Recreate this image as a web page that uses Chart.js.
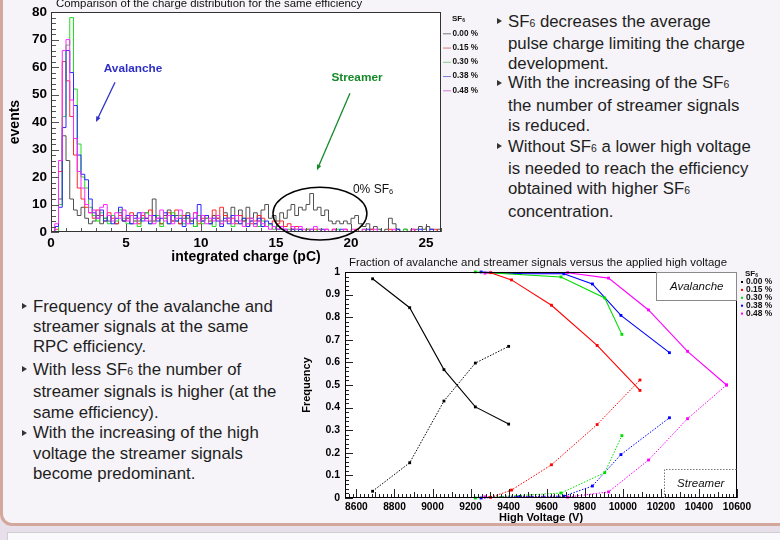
<!DOCTYPE html>
<html>
<head>
<meta charset="utf-8">
<script src="https://cdn.jsdelivr.net/npm/chart.js@4.4.0/dist/chart.umd.min.js"></script>
<style>
html, body { margin: 0; padding: 0; }
body { width: 780px; height: 540px; position: relative; overflow: hidden; background: #e7e0ea;
       font-family: "Liberation Sans", Arial, Helvetica, sans-serif; }
#slide { position: absolute; left: 0; top: -20px; width: 820px; height: 546px; box-sizing: border-box;
         border: 3px solid #d4a79c; border-radius: 12px; background: #f6f4f8; }
#next { position: absolute; left: 7px; top: 532px; width: 800px; height: 30px; box-sizing: border-box;
        border: 1px solid #cfcdd4; background: #fafafc; }
.txt { position: absolute; font-size: 16.8px; line-height: 20.4px; color: #1e1e1e; white-space: nowrap; }
.b { position: absolute; }
.b::before { content: ''; position: absolute; left: -11px; top: 6.7px; border-left: 5px solid #333;
             border-top: 3.5px solid transparent; border-bottom: 3.5px solid transparent; }
.s { font-size: 62%; }
#topBox { position: absolute; left: 0; top: 0; width: 490px; height: 270px; }
#botBox { position: absolute; left: 295px; top: 255px; width: 485px; height: 275px; }
</style>
</head>
<body>
<div id="slide"></div>
<div id="next"></div>

<div class="txt" style="left:508px;top:0;">
  <div class="b" style="top:11.5px;">SF<span class="s">6</span> decreases the average<br>pulse charge limiting the charge<br>development.</div>
  <div class="b" style="top:73.1px;">With the increasing of the SF<span class="s">6</span><br>the number of streamer signals<br>is reduced.</div>
  <div class="b" style="top:136.5px;">Without SF<span class="s">6</span> a lower high voltage<br>is needed to reach the efficiency<br>obtained with higher SF<span class="s">6</span><br>concentration.</div>
</div>

<div class="txt" style="left:33px;top:0;">
  <div class="b" style="top:296.5px;">Frequency of the avalanche and<br>streamer signals at the same<br>RPC efficiency.</div>
  <div class="b" style="top:359.8px;">With less SF<span class="s">6</span> the number of<br>streamer signals is higher (at the<br>same efficiency).</div>
  <div class="b" style="top:423.1px;">With the increasing of the high<br>voltage the streamer signals<br>become predominant.</div>
</div>

<div id="topBox"><canvas id="chargeChart" width="490" height="270"></canvas></div>
<div id="botBox"><canvas id="freqChart" width="485" height="275"></canvas></div>

<script>
Chart.defaults.font.family = '"Liberation Sans", Arial, Helvetica, sans-serif';

// ---- charge distribution (0.25 pC bins from 0 to 26 pC)
const binWidth = 0.25;
const chargeTicks = [0, 5, 10, 15, 20, 25];
const eventTicks = [0, 10, 20, 30, 40, 50, 60, 70, 80];
const sfLabels = ['0.00 %', '0.15 %', '0.30 %', '0.38 %', '0.48 %'];

const counts000 = [
  0, 0, 12, 35, 26, 12, 8, 6, 9, 5,
  3, 4, 6, 3, 5, 4, 6, 3, 7, 4,
  5, 3, 6, 4, 5, 7, 4, 12, 5, 3,
  6, 8, 4, 6, 3, 5, 7, 4, 2, 6,
  4, 5, 3, 6, 5, 4, 7, 5, 9, 6,
  8, 4, 9, 5, 7, 4, 8, 10, 5, 6,
  4, 7, 5, 8, 10, 6, 9, 8, 10, 14,
  8, 9, 6, 8, 4, 3, 4, 3, 4, 3,
  5, 6, 3, 2, 3, 1, 2, 1, 0, 1,
  5, 3, 1, 0, 1, 0, 0, 1, 2, 1,
  2, 1, 0, 1];
const counts015 = [
  0, 1, 22, 62, 55, 42, 28, 16, 12, 9,
  7, 5, 8, 6, 4, 7, 5, 3, 6, 4,
  5, 7, 4, 3, 6, 5, 8, 4, 6, 3,
  5, 7, 4, 8, 3, 6, 5, 4, 7, 3,
  5, 6, 4, 8, 5, 9, 6, 4, 5, 3,
  6, 4, 5, 3, 4, 6, 5, 2, 3, 4,
  3, 4, 2, 3, 1, 2, 1, 0, 1, 0,
  1, 0, 0, 1, 0, 1, 0, 0, 1, 0,
  0, 1, 0, 0, 0, 1, 0, 0, 0, 0,
  1, 0, 0, 0, 0, 0, 1, 0, 0, 0,
  0, 0, 1, 0];
const counts030 = [
  0, 0, 10, 42, 68, 78, 52, 32, 20, 16,
  9, 6, 4, 7, 5, 3, 6, 4, 8, 5,
  3, 6, 4, 2, 5, 7, 3, 4, 6, 2,
  5, 3, 7, 4, 6, 3, 5, 4, 2, 6,
  3, 5, 4, 2, 6, 3, 4, 5, 2, 4,
  3, 5, 2, 4, 3, 2, 4, 2, 3, 1,
  2, 1, 0, 1, 0, 1, 0, 0, 1, 0,
  0, 1, 0, 0, 0, 0, 1, 0, 0, 0,
  0, 0, 0, 1, 0, 0, 0, 0, 0, 0,
  0, 0, 0, 0, 1, 0, 0, 0, 0, 0,
  0, 0, 0, 0];
const counts038 = [
  0, 2, 9, 38, 66, 58, 46, 28, 21, 19,
  12, 7, 5, 8, 4, 6, 3, 5, 9, 4,
  6, 3, 5, 7, 4, 5, 3, 6, 4, 5,
  7, 3, 6, 4, 5, 2, 6, 3, 5, 10,
  4, 6, 3, 5, 4, 2, 5, 3, 6, 4,
  3, 5, 2, 4, 3, 5, 2, 4, 3, 2,
  1, 2, 1, 0, 1, 0, 1, 0, 0, 1,
  0, 0, 1, 0, 0, 0, 0, 1, 0, 0,
  0, 0, 0, 0, 1, 0, 0, 0, 0, 0,
  0, 0, 1, 0, 0, 0, 0, 0, 1, 0,
  0, 1, 0, 0];
const counts048 = [
  0, 3, 26, 66, 70, 48, 34, 22, 16, 10,
  7, 8, 5, 9, 10, 6, 4, 7, 5, 8,
  4, 6, 3, 5, 7, 4, 6, 3, 5, 8,
  4, 6, 3, 5, 8, 4, 3, 5, 7, 4,
  6, 3, 5, 4, 6, 3, 4, 5, 3, 6,
  4, 2, 3, 5, 2, 4, 3, 2, 1, 2,
  1, 2, 1, 0, 2, 1, 2, 1, 0, 1,
  2, 1, 0, 1, 0, 1, 0, 0, 1, 0,
  1, 0, 0, 1, 0, 0, 1, 0, 0, 0,
  0, 1, 0, 0, 0, 0, 1, 0, 0, 0,
  0, 0, 0, 0];

// ---- avalanche / streamer fraction vs HV
const hvTicks = [8600, 8800, 9000, 9200, 9400, 9600, 9800, 10000, 10200, 10400, 10600];
const freqTicks = [0, 0.1, 0.2, 0.3, 0.4, 0.5, 0.6, 0.7, 0.8, 0.9, 1];

const hv000 = [8685, 8880, 9060, 9225, 9400];
const aval000 = [0.97, 0.842, 0.568, 0.403, 0.327];
const strm000 = [0.03, 0.156, 0.429, 0.597, 0.671];

const hv015 = [9305, 9415, 9625, 9865, 10090];
const aval015 = [0.997, 0.965, 0.853, 0.675, 0.476];
const strm015 = [0.003, 0.035, 0.147, 0.325, 0.522];

const hv030 = [9225, 9675, 9905, 9995];
const aval030 = [1.0, 0.978, 0.885, 0.724];
const strm030 = [0.0, 0.022, 0.112, 0.276];

const hv038 = [9255, 9460, 9690, 9840, 9990, 10245];
const aval038 = [1.0, 0.993, 0.992, 0.947, 0.808, 0.643];
const strm038 = [0.0, 0.007, 0.008, 0.053, 0.192, 0.355];

const hv048 = [9275, 9710, 9925, 10135, 10340, 10545];
const aval048 = [0.995, 0.997, 0.973, 0.832, 0.649, 0.5];
const strm048 = [0.005, 0.004, 0.027, 0.168, 0.351, 0.5];

const histColors = ['#505050', '#ff2a2a', '#22dd22', '#2a2aff', '#ff2aff'];
const legendLineColors = ['#777777', '#d87a7a', '#86cc86', '#7a7ad8', '#d87ad8'];
const graphColors = ['#000000', '#ff0000', '#00dd00', '#0000ff', '#ff00ff'];

function histPoints(counts) {
    let pts = counts.map((c, i) => ({x: i * binWidth, y: c}));
    pts.push({x: counts.length * binWidth, y: 0});
    return pts;
}
function graphPoints(xs, ys) {
    return xs.map((v, i) => ({x: v, y: ys[i]}));
}

// white pad + ROOT style frame with inward ticks
const rootFrame = {
    id: 'rootFrame',
    beforeDraw: function(chart) {
        const a = chart.chartArea;
        chart.ctx.save();
        chart.ctx.fillStyle = '#ffffff';
        chart.ctx.fillRect(a.left, a.top, a.width, a.height);
        chart.ctx.restore();
    },
    afterDatasetsDraw: function(chart, args, o) {
        const ctx = chart.ctx, a = chart.chartArea, x = chart.scales.x, y = chart.scales.y;
        ctx.save();
        ctx.strokeStyle = o.color;
        ctx.lineWidth = 1;
        ctx.beginPath();
        o.xTicks.forEach(function(t) {
            for (let k = Math.ceil(x.min / t[0] - 1e-9); k * t[0] <= x.max + 1e-9; k++) {
                const px = Math.round(x.getPixelForValue(k * t[0])) + 0.5;
                ctx.moveTo(px, a.bottom);
                ctx.lineTo(px, a.bottom - t[1]);
            }
        });
        o.yTicks.forEach(function(t) {
            for (let k = Math.ceil(y.min / t[0] - 1e-9); k * t[0] <= y.max + 1e-9; k++) {
                const py = Math.round(y.getPixelForValue(k * t[0])) + 0.5;
                ctx.moveTo(a.left, py);
                ctx.lineTo(a.left + t[1], py);
            }
        });
        ctx.stroke();
        ctx.strokeStyle = o.frame;
        ctx.strokeRect(Math.round(a.left) + 0.5, Math.round(a.top) + 0.5, Math.round(a.width) - 1, Math.round(a.height) - 1);
        ctx.restore();
    }
};

function drawSF(ctx, x, y, size, weight) {
    ctx.font = weight + ' ' + size + 'px "Liberation Sans", Arial';
    ctx.fillText('SF', x, y);
    const w = ctx.measureText('SF').width;
    ctx.font = weight + ' ' + (size * 0.62) + 'px "Liberation Sans", Arial';
    ctx.fillText('6', x + w, y + size * 0.18);
}

function arrow(ctx, x1, y1, x2, y2, color) {
    const ang = Math.atan2(y2 - y1, x2 - x1), h = 6;
    ctx.strokeStyle = color;
    ctx.fillStyle = color;
    ctx.lineWidth = 1.3;
    ctx.beginPath();
    ctx.moveTo(x1, y1);
    ctx.lineTo(x2 - Math.cos(ang) * h * 0.8, y2 - Math.sin(ang) * h * 0.8);
    ctx.stroke();
    ctx.beginPath();
    ctx.moveTo(x2, y2);
    ctx.lineTo(x2 - h * Math.cos(ang - 0.4), y2 - h * Math.sin(ang - 0.4));
    ctx.lineTo(x2 - h * Math.cos(ang + 0.4), y2 - h * Math.sin(ang + 0.4));
    ctx.closePath();
    ctx.fill();
}

// title, legend and annotations of the charge plot
const chargeNotes = {
    id: 'chargeNotes',
    afterDraw: function(chart) {
        const ctx = chart.ctx, x = chart.scales.x, y = chart.scales.y;
        ctx.save();
        ctx.textBaseline = 'middle';
        ctx.textAlign = 'left';
        ctx.fillStyle = '#111';
        ctx.font = '11.4px "Liberation Sans", Arial';
        ctx.fillText('Comparison of the charge distribution for the same efficiency', 56, 4);

        // legend
        drawSF(ctx, 452, 19, 8, 'bold');
        sfLabels.forEach(function(lab, i) {
            const ly = 33.3 + i * 14.25;
            ctx.strokeStyle = legendLineColors[i];
            ctx.lineWidth = 1;
            ctx.beginPath();
            ctx.moveTo(443, ly + 0.5);
            ctx.lineTo(451, ly + 0.5);
            ctx.stroke();
            ctx.fillStyle = '#111';
            ctx.font = 'bold 8.2px "Liberation Sans", Arial';
            ctx.fillText(lab, 452.5, ly);
        });

        // annotations
        ctx.textAlign = 'center';
        ctx.font = 'bold 11.8px "Liberation Sans", Arial';
        ctx.fillStyle = '#3030c8';
        ctx.fillText('Avalanche', x.getPixelForValue(5.47), y.getPixelForValue(59.3));
        arrow(ctx, x.getPixelForValue(4.27), y.getPixelForValue(54.5), x.getPixelForValue(3.0), y.getPixelForValue(40), '#3030c8');
        ctx.fillStyle = '#168a28';
        ctx.fillText('Streamer', x.getPixelForValue(20.4), y.getPixelForValue(56));
        arrow(ctx, x.getPixelForValue(19.93), y.getPixelForValue(50.5), x.getPixelForValue(17.73), y.getPixelForValue(22.5), '#168a28');

        const cx = x.getPixelForValue(17.93), cy = y.getPixelForValue(6.7);
        ctx.strokeStyle = '#000';
        ctx.lineWidth = 1.5;
        ctx.beginPath();
        ctx.ellipse(cx, cy, x.getPixelForValue(3.13) - x.getPixelForValue(0), y.getPixelForValue(0) - y.getPixelForValue(9.6), 0, 0, Math.PI * 2);
        ctx.stroke();
        ctx.textAlign = 'left';
        ctx.fillStyle = '#111';
        ctx.font = '12px "Liberation Sans", Arial';
        const tx = x.getPixelForValue(20.13), ty = y.getPixelForValue(15.3);
        ctx.fillText('0% ', tx, ty);
        drawSF(ctx, tx + ctx.measureText('0% ').width, ty, 12, 'normal');
        ctx.restore();
    }
};

// title, legend and boxes of the frequency plot
const freqNotes = {
    id: 'freqNotes',
    afterDraw: function(chart) {
        const ctx = chart.ctx, a = chart.chartArea, x = chart.scales.x, y = chart.scales.y;
        ctx.save();
        ctx.textBaseline = 'middle';
        ctx.textAlign = 'center';
        ctx.fillStyle = '#111';
        ctx.font = '11.4px "Liberation Sans", Arial';
        ctx.fillText('Fraction of avalanche and streamer signals versus the applied high voltage', 243, 8);

        // Avalanche box
        const ax = Math.round(x.getPixelForValue(10175)) + 0.5, ay = Math.round(y.getPixelForValue(0.876)) + 0.5;
        ctx.fillStyle = '#ffffff';
        ctx.fillRect(ax, a.top + 1, a.right - 1 - ax, ay - a.top - 1);
        ctx.strokeStyle = '#8a8a8a';
        ctx.lineWidth = 1;
        ctx.strokeRect(ax, a.top + 0.5, a.right - 0.5 - ax, ay - a.top - 0.5);
        ctx.fillStyle = '#111';
        ctx.font = 'italic 11.5px "Liberation Sans", Arial';
        ctx.fillText('Avalanche', (ax + a.right) / 2, (a.top + ay) / 2 + 0.5);

        // Streamer box
        const sx = Math.round(x.getPixelForValue(10215)) + 0.5, sy = Math.round(y.getPixelForValue(0.128)) + 0.5;
        ctx.setLineDash([1.5, 1.5]);
        ctx.strokeStyle = '#777';
        ctx.beginPath();
        ctx.moveTo(sx, a.bottom);
        ctx.lineTo(sx, sy);
        ctx.lineTo(a.right, sy);
        ctx.stroke();
        ctx.setLineDash([]);
        ctx.fillText('Streamer', (sx + a.right) / 2, (sy + a.bottom) / 2);

        // legend
        ctx.textAlign = 'left';
        drawSF(ctx, 450, 19, 8, 'bold');
        sfLabels.forEach(function(lab, i) {
            const ly = 27 + i * 7.9;
            ctx.fillStyle = graphColors[i];
            ctx.fillRect(446, ly - 1, 2, 2);
            ctx.fillStyle = '#111';
            ctx.font = 'bold 8.4px "Liberation Sans", Arial';
            ctx.fillText(lab, 451, ly);
        });
        ctx.restore();
    }
};

function axisTicks(values, size, pad, cb) {
    return {
        font: {size: size, weight: 'bold'},
        color: '#000',
        padding: pad,
        maxRotation: 0,
        autoSkip: false,
        callback: cb || function(v) { return v; }
    };
}

var chargeDatasets = [counts000, counts015, counts030, counts038, counts048].map(function(c, i) {
    return {
        label: sfLabels[i],
        data: histPoints(c),
        stepped: true,
        borderColor: histColors[i],
        borderWidth: 1,
        pointRadius: 0,
        fill: false
    };
}).reverse();

new Chart(document.getElementById('chargeChart'), {
    type: 'line',
    data: {datasets: chargeDatasets},
    plugins: [rootFrame, chargeNotes],
    options: {
        responsive: false,
        animation: false,
        events: [],
        layout: {padding: {left: 0, top: 12, right: 49, bottom: 0}},
        scales: {
            x: {
                type: 'linear', min: 0, max: 26,
                afterBuildTicks: function(s) { s.ticks = chargeTicks.map(function(v) { return {value: v}; }); },
                afterFit: function(s) { s.height = 38; },
                ticks: axisTicks(chargeTicks, 13.5, 3),
                grid: {display: false, drawTicks: false},
                border: {display: false},
                title: {display: true, text: 'integrated charge (pC)', color: '#000',
                        font: {size: 14, weight: 'bold'}, padding: {top: 0, bottom: 4}}
            },
            y: {
                type: 'linear', min: 0, max: 80,
                afterBuildTicks: function(s) { s.ticks = eventTicks.map(function(v) { return {value: v}; }); },
                afterFit: function(s) { s.width = 51; },
                ticks: axisTicks(eventTicks, 13.5, 4),
                grid: {display: false, drawTicks: false},
                border: {display: false},
                title: {display: true, text: 'events', color: '#000',
                        font: {size: 14, weight: 'bold'}, padding: {top: 7, bottom: 0}}
            }
        },
        plugins: {
            legend: {display: false},
            tooltip: {enabled: false},
            rootFrame: {color: '#555', frame: '#333', xTicks: [[1, 4], [5, 8]], yTicks: [[2, 5], [10, 8]]}
        }
    }
});

var graphSets = [
    [hv000, aval000, strm000],
    [hv015, aval015, strm015],
    [hv030, aval030, strm030],
    [hv038, aval038, strm038],
    [hv048, aval048, strm048]
];
var freqDatasets = [];
graphSets.forEach(function(g, i) {
    freqDatasets.push({
        label: sfLabels[i] + ' avalanche',
        data: graphPoints(g[0], g[1]),
        borderColor: graphColors[i],
        backgroundColor: graphColors[i],
        borderWidth: 1.1,
        pointStyle: 'rect',
        pointRadius: 2,
        pointBorderWidth: 0,
        fill: false,
        clip: 4
    });
    freqDatasets.push({
        label: sfLabels[i] + ' streamer',
        data: graphPoints(g[0], g[2]),
        borderColor: graphColors[i],
        backgroundColor: graphColors[i],
        borderWidth: 1,
        borderDash: [1.5, 1.5],
        pointStyle: 'rect',
        pointRadius: 2,
        pointBorderWidth: 0,
        fill: false,
        clip: 4
    });
});

new Chart(document.getElementById('freqChart'), {
    type: 'line',
    data: {datasets: freqDatasets},
    plugins: [rootFrame, freqNotes],
    options: {
        responsive: false,
        animation: false,
        events: [],
        layout: {padding: {left: 0, top: 17, right: 43, bottom: 0}},
        scales: {
            x: {
                type: 'linear', min: 8540, max: 10600,
                afterBuildTicks: function(s) { s.ticks = hvTicks.map(function(v) { return {value: v}; }); },
                afterFit: function(s) { s.height = 32; },
                ticks: axisTicks(hvTicks, 10.2, 3),
                grid: {display: false, drawTicks: false},
                border: {display: false},
                title: {display: true, text: 'High Voltage (V)', color: '#000',
                        font: {size: 11, weight: 'bold'}, padding: {top: 0, bottom: 5}}
            },
            y: {
                type: 'linear', min: 0, max: 1,
                afterBuildTicks: function(s) { s.ticks = freqTicks.map(function(v) { return {value: v}; }); },
                afterFit: function(s) { s.width = 50; },
                ticks: axisTicks(freqTicks, 10.5, 5, function(v) { return (v === 0 || v === 1) ? String(v) : v.toFixed(1); }),
                grid: {display: false, drawTicks: false},
                border: {display: false},
                title: {display: true, text: 'Frequency', color: '#000',
                        font: {size: 11, weight: 'bold'}, padding: {top: 5, bottom: 0}}
            }
        },
        plugins: {
            legend: {display: false},
            tooltip: {enabled: false},
            rootFrame: {color: '#222', frame: '#000', xTicks: [[20, 4], [100, 6], [200, 9]], yTicks: [[0.02, 4], [0.1, 8]]}
        }
    }
});
</script>
</body>
</html>
